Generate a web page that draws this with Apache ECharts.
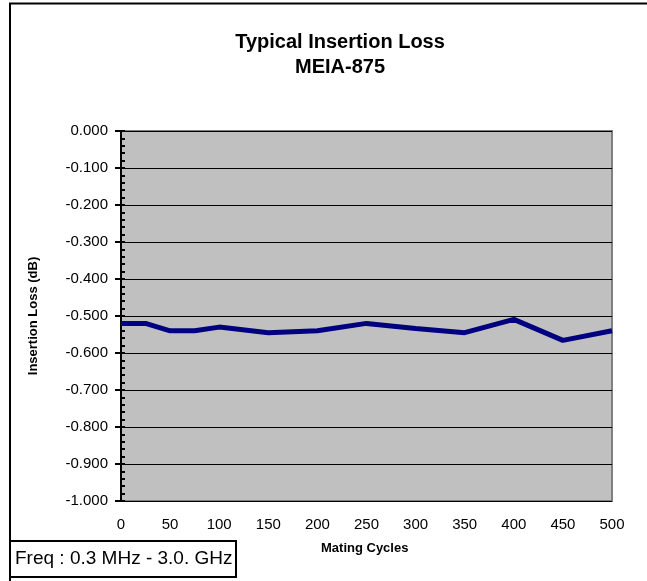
<!DOCTYPE html>
<html>
<head>
<meta charset="utf-8">
<script src="https://cdn.jsdelivr.net/npm/echarts@6/dist/echarts.min.js"></script>
<style>
  html, body { margin: 0; padding: 0; background: #fff; }
  #chart { width: 647px; height: 581px; }
</style>
</head>
<body>
<div id="chart"></div>
<script>
// mating cycles and measured loss (dB)
const cycles = [0, 25, 50, 75, 100, 150, 200, 250, 300, 350, 400, 450, 500]
const insertionLoss = [-0.52, -0.52, -0.54, -0.54, -0.53, -0.545, -0.54, -0.52, -0.534, -0.545, -0.509, -0.566, -0.54]

const fontFamily = 'Liberation Sans, Arial, sans-serif'

const chart = echarts.init(document.getElementById('chart'))

chart.setOption({
  animation: false,
  title: [{
    text: 'Typical Insertion Loss',
    left: 335,
    top: 27,
    textAlign: 'center',
    textStyle: { fontFamily, fontSize: 20, fontWeight: 'bold', color: '#000' }
  }, {
    text: 'MEIA-875',
    left: 335,
    top: 52,
    textAlign: 'center',
    textStyle: { fontFamily, fontSize: 20, fontWeight: 'bold', color: '#000' }
  }],
  graphic: [{
    type: 'polyline',
    shape: { points: [[10, 600], [10, 3.5], [660, 3.5]] },
    style: { stroke: '#000', lineWidth: 2, fill: null }
  }, {
    type: 'rect',
    shape: { x: 10, y: 541, width: 226, height: 36 },
    style: { stroke: '#000', lineWidth: 2, fill: '#fff' }
  }, {
    type: 'text',
    left: 15,
    top: 549,
    style: { text: 'Freq : 0.3 MHz - 3.0. GHz', font: '19px ' + fontFamily, fill: '#000' }
  }, {
    type: 'text',
    left: 321,
    top: 542,
    style: { text: 'Mating Cycles', font: 'bold 13px ' + fontFamily, fill: '#000' }
  }],
  grid: {
    left: 121,
    top: 131,
    width: 491,
    height: 370,
    show: true,
    backgroundColor: '#c0c0c0',
    borderColor: '#808080',
    borderWidth: 2
  },
  xAxis: {
    type: 'value',
    min: 0,
    max: 500,
    interval: 50,
    axisLine: { show: false },
    axisTick: { show: false },
    splitLine: { show: false },
    axisLabel: { color: '#000', fontFamily, fontSize: 15, margin: 16 }
  },
  yAxis: [{
    type: 'value',
    min: -1,
    max: 0,
    interval: 0.1,
    name: 'Insertion Loss (dB)',
    nameLocation: 'middle',
    nameGap: 81,
    nameTextStyle: { fontFamily, fontSize: 13, fontWeight: 'bold', color: '#000' },
    axisLine: { show: true, lineStyle: { color: '#000', width: 2 } },
    axisTick: { show: true, length: 6, lineStyle: { color: '#000', width: 2 } },
    splitLine: { show: true, lineStyle: { color: '#000', width: 1 } },
    axisLabel: {
      color: '#000',
      fontFamily,
      fontSize: 15,
      margin: 13,
      formatter: v => v.toFixed(3)
    }
  }, {
    // inner tick marks
    type: 'value',
    min: -1,
    max: 0,
    interval: 0.1,
    position: 'left',
    axisLine: { show: false },
    axisTick: { show: true, inside: true, length: 4, lineStyle: { color: '#000', width: 2 } },
    minorTick: { show: true, splitNumber: 5, length: 4, lineStyle: { color: '#000', width: 2 } },
    splitLine: { show: false },
    axisLabel: { show: false }
  }],
  series: [{
    type: 'line',
    data: cycles.map((c, i) => [c, insertionLoss[i]]),
    showSymbol: false,
    lineStyle: { color: '#000080', width: 5 },
    itemStyle: { color: '#000080' }
  }]
})
</script>
</body>
</html>
